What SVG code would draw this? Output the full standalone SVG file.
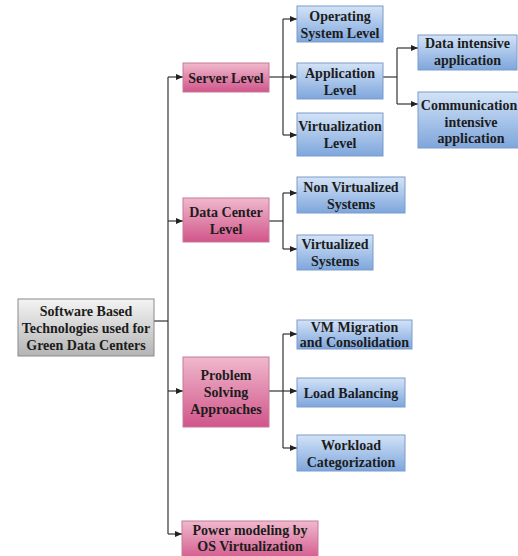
<svg xmlns="http://www.w3.org/2000/svg" width="518" height="556" viewBox="0 0 518 556">
<defs>
<linearGradient id="gPink" x1="0" y1="0" x2="0" y2="1">
<stop offset="0" stop-color="#f0b9cd"/>
<stop offset="1" stop-color="#d1558a"/>
</linearGradient>
<linearGradient id="gBlue" x1="0" y1="0" x2="0" y2="1">
<stop offset="0" stop-color="#d3e3f7"/>
<stop offset="1" stop-color="#7ea6dc"/>
</linearGradient>
<linearGradient id="gGray" x1="0" y1="0" x2="0" y2="1">
<stop offset="0" stop-color="#f4f4f4"/>
<stop offset="1" stop-color="#b4b4b4"/>
</linearGradient>
<marker id="arr" markerWidth="7" markerHeight="6" refX="7" refY="3" orient="auto" markerUnits="userSpaceOnUse">
<path d="M0,0 L7,3 L0,6 z" fill="#222"/>
</marker>
</defs>
<style>
.pink{fill:url(#gPink);stroke:#c47a98;stroke-width:1}
.blue{fill:url(#gBlue);stroke:#7b9bcb;stroke-width:1}
.gray{fill:url(#gGray);stroke:#8a8a8a;stroke-width:1}
text{font-family:"Liberation Serif","Times New Roman",serif;font-weight:bold;font-size:14px;fill:#1c1c1c;text-anchor:middle}
.c{fill:none;stroke:#333;stroke-width:1.2}
.a{fill:none;stroke:#333;stroke-width:1.2;marker-end:url(#arr)}
</style>
<rect width="518" height="556" fill="#ffffff"/>
<g id="connectors">
<path class="c" d="M154 321 H168"/>
<path class="c" d="M168 77 V534"/>
<path class="a" d="M168 77 H183"/>
<path class="a" d="M168 221 H183"/>
<path class="a" d="M168 391 H183"/>
<path class="a" d="M168 534 H182"/>
<path class="c" d="M269 77 H283"/>
<path class="c" d="M283 19 V135"/>
<path class="a" d="M283 19 H297"/>
<path class="a" d="M283 77 H297"/>
<path class="a" d="M283 135 H297"/>
<path class="c" d="M383 77 H397"/>
<path class="c" d="M397 48 V104"/>
<path class="a" d="M397 48 H418"/>
<path class="a" d="M397 104 H418"/>
<path class="c" d="M269 221 H283"/>
<path class="c" d="M283 193 V249"/>
<path class="a" d="M283 193 H297"/>
<path class="a" d="M283 249 H297"/>
<path class="c" d="M269 391 H283"/>
<path class="c" d="M283 334 V448"/>
<path class="a" d="M283 334 H297"/>
<path class="a" d="M283 391 H297"/>
<path class="a" d="M283 448 H297"/>
</g>
<g id="root">
<rect class="gray" x="18" y="299" width="136" height="57"/>
<text x="86" y="315.5">Software Based</text>
<text x="86" y="332.5">Technologies used for</text>
<text x="86" y="349.5">Green Data Centers</text>
</g>
<g id="server">
<rect class="pink" x="183" y="63" width="86" height="29"/>
<text x="226" y="82.5">Server Level</text>
</g>
<g id="os">
<rect class="blue" x="297" y="6" width="86" height="36"/>
<text x="340" y="20.5">Operating</text>
<text x="340" y="37.5">System Level</text>
</g>
<g id="app">
<rect class="blue" x="297" y="63" width="86" height="36"/>
<text x="340" y="77.5">Application</text>
<text x="340" y="94.5">Level</text>
</g>
<g id="virt">
<rect class="blue" x="297" y="113" width="86" height="43"/>
<text x="340" y="131">Virtualization</text>
<text x="340" y="148">Level</text>
</g>
<g id="dataint">
<rect class="blue" x="418" y="35" width="99" height="35"/>
<text x="467.5" y="48">Data intensive</text>
<text x="467.5" y="65">application</text>
</g>
<g id="commint">
<rect class="blue" x="418" y="92" width="108" height="56"/>
<text x="469" y="110">Communication</text>
<text x="471" y="127">intensive</text>
<text x="471" y="143">application</text>
</g>
<g id="dc">
<rect class="pink" x="183" y="198" width="86" height="44"/>
<text x="226" y="216.5">Data Center</text>
<text x="226" y="233.5">Level</text>
</g>
<g id="nonvirt">
<rect class="blue" x="297" y="177" width="108" height="36"/>
<text x="351" y="191.5">Non Virtualized</text>
<text x="351" y="208.5">Systems</text>
</g>
<g id="virtsys">
<rect class="blue" x="297" y="235" width="76" height="35"/>
<text x="335" y="249">Virtualized</text>
<text x="335" y="266">Systems</text>
</g>
<g id="ps">
<rect class="pink" x="183" y="357" width="86" height="70"/>
<text x="226" y="380">Problem</text>
<text x="226" y="397">Solving</text>
<text x="226" y="414">Approaches</text>
</g>
<g id="vm">
<rect class="blue" x="297" y="320" width="115" height="29"/>
<text x="354.5" y="332">VM Migration</text>
<text x="354.5" y="347">and Consolidation</text>
</g>
<g id="lb">
<rect class="blue" x="297" y="378" width="108" height="29"/>
<text x="351" y="397.5">Load Balancing</text>
</g>
<g id="wc">
<rect class="blue" x="297" y="435" width="108" height="36"/>
<text x="351" y="449.5">Workload</text>
<text x="351" y="466.5">Categorization</text>
</g>
<g id="power">
<rect class="pink" x="182" y="521" width="136" height="40"/>
<text x="250" y="535">Power modeling by</text>
<text x="250" y="551">OS Virtualization</text>
</g>
</svg>
